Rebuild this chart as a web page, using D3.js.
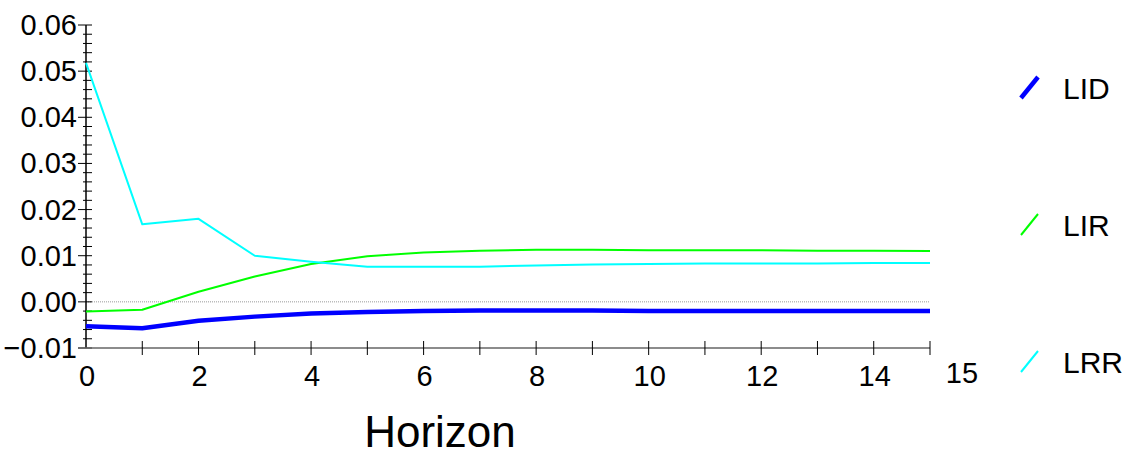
<!DOCTYPE html>
<html>
<head>
<meta charset="utf-8">
<script src="https://cdn.jsdelivr.net/npm/d3@7"></script>
<style>
  body { margin: 0; background: #fff; }
  svg { display: block; font-family: "Liberation Sans", Arial, sans-serif; }
</style>
</head>
<body>
<div id="chart"></div>
<script>
// horizon steps
const horizon = d3.range(0, 16);

// responses
const lid = [-0.0053, -0.0057, -0.0041, -0.0032, -0.0025, -0.0022, -0.0020, -0.0019,
             -0.0019, -0.0019, -0.0020, -0.0020, -0.0020, -0.0020, -0.0020, -0.0020];
const lir = [-0.0021, -0.0017, 0.0022, 0.0055, 0.0082, 0.0099, 0.0107, 0.0111,
             0.0113, 0.0113, 0.0112, 0.0112, 0.0112, 0.0111, 0.0111, 0.0110];
const lrr = [0.0518, 0.0168, 0.0180, 0.0100, 0.0087, 0.0076, 0.0076, 0.0076,
             0.0079, 0.0081, 0.0082, 0.0083, 0.0083, 0.0083, 0.0084, 0.0084];

const seriesNames = ["LID", "LIR", "LRR"];
const seriesColors = ["#0000ff", "#00ff00", "#00ffff"];
const seriesWidths = [4.5, 2, 2];

const yMajor = [-0.01, 0.00, 0.01, 0.02, 0.03, 0.04, 0.05, 0.06];
const xLabels = [0, 2, 4, 6, 8, 10, 12, 14];

const width = 1132, height = 457;

const svg = d3.select("#chart").append("svg")
    .attr("width", width)
    .attr("height", height);

const x = d3.scaleLinear().domain([0, 15]).range([86, 930]);
const y = d3.scaleLinear().domain([-0.01, 0.06]).range([348, 25]);

// zero line
svg.append("line")
    .attr("x1", x(0)).attr("x2", x(15))
    .attr("y1", y(0)).attr("y2", y(0))
    .attr("stroke", "#999")
    .attr("stroke-width", 1)
    .attr("stroke-dasharray", "1,1");

// y axis: majors with labels, minors in between
const yMinor = d3.range(-0.01, 0.0601, 0.002).filter(v => Math.abs(Math.round(v * 100) - v * 100) > 1e-6);

svg.append("line")
    .attr("x1", x(0)).attr("x2", x(0))
    .attr("y1", y(0.06)).attr("y2", y(-0.01))
    .attr("stroke", "#000")
    .attr("stroke-width", 1.5);

svg.append("g").selectAll("line")
    .data(yMinor)
    .join("line")
    .attr("x1", x(0) - 3).attr("x2", x(0) + 6)
    .attr("y1", d => y(d)).attr("y2", d => y(d))
    .attr("stroke", "#000");

svg.append("g").selectAll("line")
    .data(yMajor)
    .join("line")
    .attr("x1", x(0) - 8).attr("x2", x(0) + 6)
    .attr("y1", d => y(d)).attr("y2", d => y(d))
    .attr("stroke", "#000");

svg.append("g").selectAll("text")
    .data(yMajor)
    .join("text")
    .attr("x", 77)
    .attr("y", d => y(d) + 10)
    .attr("text-anchor", "end")
    .attr("font-size", 29)
    .text(d => d3.format(".2f")(d));

// x axis
svg.append("line")
    .attr("x1", x(0) - 8).attr("x2", x(15))
    .attr("y1", y(-0.01)).attr("y2", y(-0.01))
    .attr("stroke", "#666")
    .attr("stroke-width", 1.5);

svg.append("g").selectAll("line")
    .data(horizon.slice(1))
    .join("line")
    .attr("x1", d => x(d)).attr("x2", d => x(d))
    .attr("y1", y(-0.01) - 7).attr("y2", y(-0.01) + 7)
    .attr("stroke", "#000");

svg.append("g").selectAll("text")
    .data(xLabels)
    .join("text")
    .attr("x", d => x(d) + 1)
    .attr("y", 386)
    .attr("text-anchor", "middle")
    .attr("font-size", 29)
    .text(d => d);

svg.append("text")
    .attr("x", x(15) + 32)
    .attr("y", 383)
    .attr("text-anchor", "middle")
    .attr("font-size", 29)
    .text("15");

svg.append("text")
    .attr("x", 440)
    .attr("y", 447)
    .attr("text-anchor", "middle")
    .attr("font-size", 44)
    .text("Horizon");

// lines
const line = d3.line()
    .x((d, i) => x(horizon[i]))
    .y(d => y(d));

[lid, lir, lrr].forEach((s, k) => {
    svg.append("path")
        .datum(s)
        .attr("fill", "none")
        .attr("stroke", seriesColors[k])
        .attr("stroke-width", seriesWidths[k])
        .attr("stroke-linejoin", "round")
        .attr("d", line);
});

// legend
const legend = svg.append("g").selectAll("g")
    .data(seriesNames)
    .join("g")
    .attr("transform", (d, i) => `translate(1021,${98 + i * 137})`);

legend.append("line")
    .attr("x1", 0).attr("y1", 0)
    .attr("x2", 17).attr("y2", -21)
    .attr("stroke", (d, i) => seriesColors[i])
    .attr("stroke-width", (d, i) => seriesWidths[i]);

legend.append("text")
    .attr("x", 42)
    .attr("y", 1)
    .attr("font-size", 30)
    .text(d => d);
</script>
</body>
</html>
